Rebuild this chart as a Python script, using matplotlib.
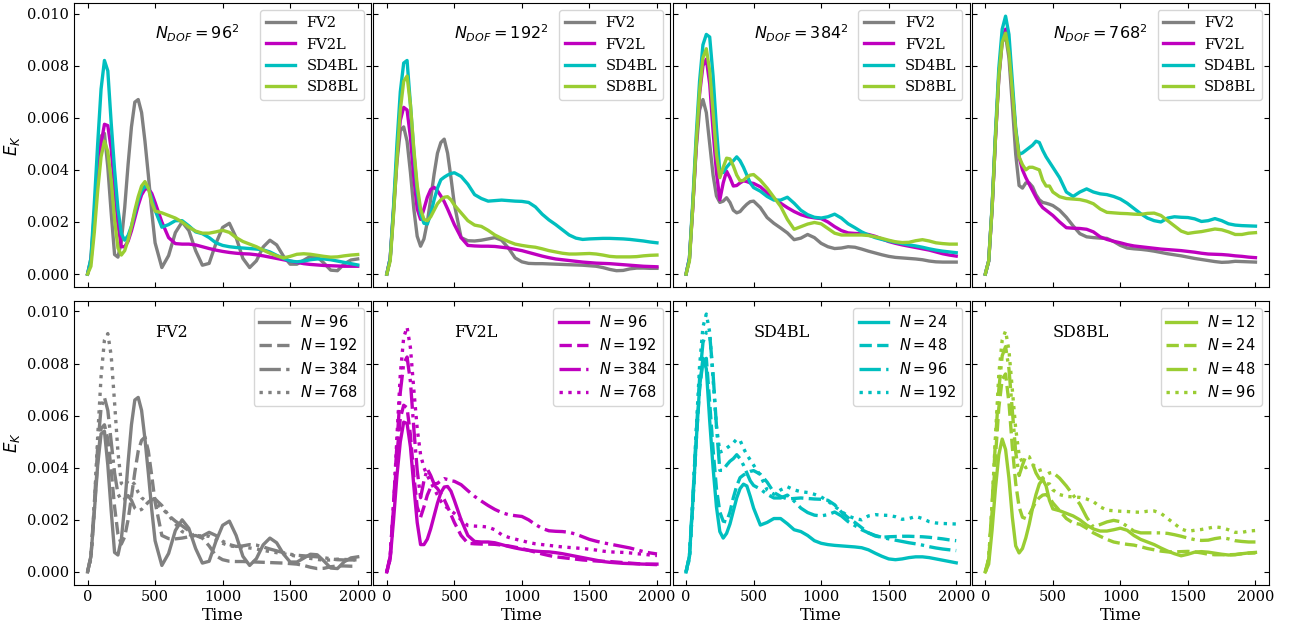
import matplotlib
matplotlib.use("Agg")
import matplotlib.pyplot as plt
import numpy as np

plt.rcParams['font.family'] = 'DejaVu Serif'
plt.rcParams['mathtext.fontset'] = 'dejavusans'
plt.rcParams['font.size'] = 10

# sample times
time = [0, 25, 50, 75, 100, 125, 150, 175, 200, 225, 250, 275, 300, 325, 350, 375, 400,
        425, 450, 475, 500, 550, 600, 650, 700, 750, 800, 850, 900, 950, 1000, 1050,
        1100, 1150, 1200, 1250, 1300, 1350, 1400, 1450, 1500, 1550, 1600, 1650, 1700,
        1750, 1800, 1850, 1900, 1950, 2000]

# kinetic energy values in units of 1e-3
# ---- N_DOF = 96^2
fv2_96 = [0, 0.6, 2.3, 4.1, 5.3, 5.4, 4.1, 2.35, 0.75, 0.65, 1.25, 2.55, 4.2, 5.65, 6.6, 6.7, 6.2, 5.1, 3.8, 2.4, 1.2,
          0.25, 0.71, 1.59, 2.0, 1.67, 0.9, 0.34, 0.41, 1.17, 1.79, 1.95, 1.4, 0.6, 0.25, 0.51, 1.04, 1.3, 1.12, 0.69, 0.38,
          0.38, 0.53, 0.68, 0.66, 0.42, 0.15, 0.13, 0.39, 0.54, 0.58]
fv2l_96 = [0, 0.5, 2.0, 3.7, 5.0, 5.75, 5.7, 4.8, 3.3, 1.9, 1.05, 1.05, 1.26, 1.66, 2.15, 2.64, 3.04, 3.26, 3.28, 3.1, 2.75,
           2.0, 1.4, 1.17, 1.15, 1.15, 1.12, 1.05, 0.98, 0.92, 0.87, 0.83, 0.8, 0.78, 0.77, 0.74, 0.7, 0.65, 0.6, 0.55, 0.5,
           0.45, 0.4, 0.37, 0.35, 0.33, 0.32, 0.31, 0.3, 0.3, 0.3]
sd4bl_24 = [0, 0.6, 2.7, 5.0, 7.1, 8.2, 7.8, 5.8, 4.0, 2.5, 1.55, 1.3, 1.48, 1.84, 2.34, 2.84, 3.2, 3.37, 3.3, 2.9, 2.45,
            1.8, 1.9, 2.05, 2.05, 1.85, 1.62, 1.55, 1.4, 1.2, 1.1, 1.05, 1.02, 1.0, 0.98, 0.96, 0.93, 0.85, 0.72, 0.6, 0.5,
            0.47, 0.5, 0.55, 0.58, 0.58, 0.55, 0.5, 0.45, 0.4, 0.35]
sd8bl_12 = [0, 0.3, 1.6, 3.2, 4.5, 5.1, 4.7, 3.6, 2.1, 1.0, 0.73, 0.9, 1.31, 1.83, 2.45, 2.97, 3.38, 3.55, 3.3, 2.75, 2.42,
            2.35, 2.25, 2.15, 2.0, 1.8, 1.65, 1.57, 1.57, 1.62, 1.68, 1.6, 1.4, 1.25, 1.15, 1.05, 0.92, 0.8, 0.7, 0.62, 0.68,
            0.76, 0.78, 0.76, 0.72, 0.68, 0.65, 0.66, 0.7, 0.73, 0.75]
# ---- N_DOF = 192^2
fv2_192 = [0, 0.6, 2.4, 4.3, 5.5, 5.65, 5.1, 3.9, 2.5, 1.45, 1.07, 1.35, 2.0, 2.88, 3.83, 4.64, 5.05, 5.18, 4.64, 3.7, 2.68,
           1.4, 1.28, 1.27, 1.3, 1.35, 1.4, 1.3, 1.0, 0.62, 0.47, 0.41, 0.4, 0.4, 0.39, 0.38, 0.37, 0.36, 0.35, 0.34, 0.32,
           0.3, 0.25, 0.18, 0.13, 0.14, 0.2, 0.23, 0.23, 0.22, 0.22]
fv2l_192 = [0, 0.6, 2.5, 4.5, 5.9, 6.4, 6.3, 5.25, 3.7, 2.5, 2.1, 2.5, 2.95, 3.25, 3.33, 3.2, 3.0, 2.78, 2.5, 2.2, 1.9,
            1.4, 1.1, 1.08, 1.07, 1.07, 1.06, 1.03, 1.0, 0.95, 0.9, 0.83, 0.76, 0.69, 0.63, 0.58, 0.55, 0.52, 0.49, 0.46, 0.44,
            0.42, 0.41, 0.4, 0.38, 0.36, 0.34, 0.32, 0.3, 0.29, 0.28]
sd4bl_48 = [0, 0.6, 2.6, 5.0, 7.0, 8.1, 8.2, 6.5, 4.7, 3.2, 2.3, 1.95, 1.92, 2.3, 2.85, 3.3, 3.62, 3.72, 3.8, 3.86, 3.89,
            3.75, 3.45, 3.05, 2.9, 2.8, 2.82, 2.84, 2.82, 2.8, 2.79, 2.75, 2.58, 2.3, 2.08, 1.9, 1.7, 1.5, 1.38, 1.33, 1.35,
            1.36, 1.37, 1.37, 1.36, 1.35, 1.33, 1.3, 1.27, 1.23, 1.2]
sd8bl_24 = [0, 0.5, 2.3, 4.4, 6.3, 7.4, 7.6, 6.5, 4.8, 3.4, 2.5, 2.1, 2.05, 2.2, 2.45, 2.7, 2.85, 2.95, 2.97, 2.85, 2.65,
            2.35, 2.05, 1.88, 1.83, 1.68, 1.5, 1.37, 1.25, 1.15, 1.1, 1.06, 1.03, 0.97, 0.9, 0.85, 0.8, 0.77, 0.77, 0.78, 0.79,
            0.77, 0.73, 0.68, 0.66, 0.66, 0.66, 0.67, 0.7, 0.72, 0.73]
# ---- N_DOF = 384^2
fv2_384 = [0, 0.6, 2.6, 4.8, 6.3, 6.7, 6.2, 5.0, 3.8, 3.0, 2.75, 2.8, 2.93, 2.75, 2.45, 2.35, 2.4, 2.55, 2.68, 2.78, 2.8,
           2.55, 2.17, 1.95, 1.77, 1.58, 1.32, 1.38, 1.52, 1.4, 1.18, 1.05, 0.98, 1.0, 1.05, 1.03, 0.96, 0.88, 0.81, 0.74, 0.68,
           0.64, 0.62, 0.6, 0.58, 0.55, 0.5, 0.47, 0.46, 0.46, 0.46]
fv2l_384 = [0, 0.6, 2.6, 4.9, 6.9, 8.0, 8.25, 7.3, 5.5, 3.9, 2.85, 3.5, 3.95, 3.7, 3.38, 3.4, 3.5, 3.58, 3.55, 3.5, 3.48,
            3.35, 3.12, 2.9, 2.72, 2.55, 2.4, 2.28, 2.2, 2.16, 2.13, 2.0, 1.82, 1.67, 1.58, 1.56, 1.55, 1.52, 1.45, 1.35, 1.25,
            1.18, 1.12, 1.07, 1.02, 0.97, 0.92, 0.85, 0.78, 0.73, 0.69]
sd4bl_96 = [0, 0.6, 2.8, 5.3, 7.4, 8.8, 9.2, 9.1, 7.6, 5.6, 3.9, 3.9, 4.1, 4.25, 4.35, 4.5, 4.35, 4.1, 3.8, 3.5, 3.32,
            3.18, 2.98, 2.84, 2.84, 2.95, 2.72, 2.45, 2.28, 2.18, 2.15, 2.2, 2.3, 2.15, 1.93, 1.78, 1.62, 1.5, 1.4, 1.33, 1.27,
            1.22, 1.17, 1.12, 1.08, 1.03, 0.97, 0.92, 0.88, 0.85, 0.82]
sd8bl_48 = [0, 0.5, 2.6, 5.0, 7.0, 8.3, 8.65, 7.8, 6.2, 4.6, 3.7, 4.1, 4.45, 4.42, 4.15, 3.8, 3.58, 3.6, 3.72, 3.8, 3.82,
            3.6, 3.3, 2.95, 2.6, 2.1, 1.72, 1.82, 1.92, 1.98, 1.93, 1.75, 1.57, 1.5, 1.5, 1.5, 1.5, 1.48, 1.43, 1.37, 1.3,
            1.24, 1.21, 1.22, 1.28, 1.32, 1.27, 1.2, 1.17, 1.15, 1.15]
# ---- N_DOF = 768^2
fv2_768 = [0, 0.5, 2.5, 5.2, 7.5, 8.9, 9.15, 8.3, 6.5, 4.6, 3.4, 3.3, 3.5, 3.5, 3.35, 3.05, 2.85, 2.75, 2.72, 2.68, 2.63,
           2.45, 2.18, 1.85, 1.55, 1.43, 1.4, 1.38, 1.37, 1.25, 1.1, 1.0, 0.97, 0.95, 0.92, 0.88, 0.83, 0.78, 0.74, 0.7, 0.65,
           0.6, 0.56, 0.52, 0.48, 0.45, 0.46, 0.49, 0.48, 0.47, 0.46]
fv2l_768 = [0, 0.5, 2.5, 5.2, 7.6, 9.0, 9.4, 8.6, 7.0, 5.5, 4.5, 4.0, 3.7, 3.45, 3.2, 2.95, 2.72, 2.55, 2.45, 2.35, 2.25,
            2.0, 1.78, 1.76, 1.75, 1.72, 1.62, 1.43, 1.33, 1.26, 1.2, 1.13, 1.08, 1.05, 1.02, 0.99, 0.96, 0.94, 0.92, 0.9, 0.87,
            0.84, 0.8, 0.77, 0.76, 0.75, 0.73, 0.7, 0.68, 0.65, 0.63]
sd4bl_192 = [0, 0.5, 2.6, 5.4, 7.9, 9.4, 9.9, 9.2, 7.4, 5.6, 4.6, 4.65, 4.75, 4.85, 4.95, 5.1, 5.05, 4.75, 4.5, 4.3, 4.1,
             3.7, 3.15, 2.98, 3.15, 3.27, 3.15, 3.08, 3.05, 2.98, 2.88, 2.72, 2.52, 2.32, 2.15, 2.05, 2.0, 2.15, 2.2, 2.18, 2.17,
             2.12, 2.02, 2.05, 2.13, 2.05, 1.93, 1.88, 1.86, 1.85, 1.84]
sd8bl_96 = [0, 0.5, 2.5, 5.2, 7.6, 8.9, 9.25, 8.5, 7.0, 5.5, 4.5, 4.2, 4.0, 4.1, 4.1, 4.05, 4.0, 3.6, 3.38, 3.38, 3.15,
            2.97, 2.9, 2.88, 2.86, 2.8, 2.7, 2.5, 2.37, 2.35, 2.33, 2.32, 2.3, 2.29, 2.33, 2.34, 2.25, 2.05, 1.85, 1.65, 1.56,
            1.6, 1.63, 1.68, 1.73, 1.7, 1.62, 1.52, 1.52, 1.57, 1.59]

methods = ['FV2', 'FV2L', 'SD4BL', 'SD8BL']
ndof = [96, 192, 384, 768]
resolutions = [[96, 192, 384, 768], [96, 192, 384, 768], [24, 48, 96, 192], [12, 24, 48, 96]]
colors = ['gray', 'm', 'c', 'yellowgreen']
linestyles = ['-', '--', '-.', ':']
series = [[fv2_96, fv2_192, fv2_384, fv2_768],
          [fv2l_96, fv2l_192, fv2l_384, fv2l_768],
          [sd4bl_24, sd4bl_48, sd4bl_96, sd4bl_192],
          [sd8bl_12, sd8bl_24, sd8bl_48, sd8bl_96]]

t = np.array(time)
fig, axes = plt.subplots(2, 4, figsize=(12.9, 6.29), dpi=100, sharex=True, sharey=True)
fig.subplots_adjust(left=0.0574, right=0.9837, top=0.995, bottom=0.070, wspace=0.007, hspace=0.049)

lw = 2.4
# top row: per resolution
for j in range(4):
    ax = axes[0, j]
    for i in range(4):
        ax.plot(t, np.array(series[i][j]) * 1e-3, color=colors[i], lw=lw, label=methods[i],
                solid_joinstyle='round')
    ax.text(500, 0.009, r'$N_{DOF} = %d^2$' % ndof[j], fontsize=11.5)
    ax.legend(loc='upper right', fontsize=10.5)

# bottom row: per method
for i in range(4):
    ax = axes[1, i]
    for j in range(4):
        ax.plot(t, np.array(series[i][j]) * 1e-3, color=colors[i], lw=lw, ls=linestyles[j],
                label=r'$N = %d$' % resolutions[i][j], solid_joinstyle='round')
    ax.text(500, 0.009, methods[i], fontsize=11.5)
    ax.legend(loc='upper right', fontsize=10.5)
    ax.set_xlabel('Time', fontsize=12, labelpad=2)

for r in range(2):
    axes[r, 0].set_ylabel(r'$E_K$', fontsize=12)

for ax in axes.flat:
    ax.set_xlim(-100, 2100)
    ax.set_ylim(-0.0005, 0.0104)
    ax.set_xticks([0, 500, 1000, 1500, 2000])
    ax.set_yticks([0, 0.002, 0.004, 0.006, 0.008, 0.010])
    ax.tick_params(direction='in', top=True, right=True, labelsize=10.5)

fig.savefig('out.png', dpi=100)
